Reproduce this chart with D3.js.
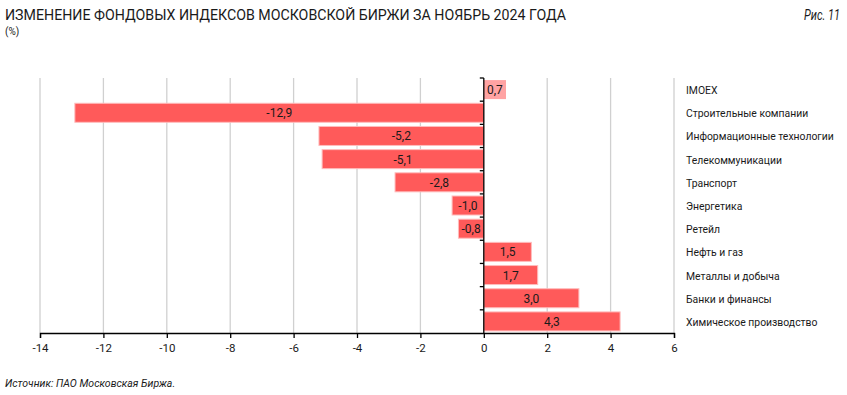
<!DOCTYPE html>
<html>
<head>
<meta charset="utf-8">
<script src="https://cdn.jsdelivr.net/npm/d3@7"></script>
<style>
    body { margin: 0; background: #fff; }
    svg { display: block; }
</style>
</head>
<body>
<div id="chart"></div>
<script>
// Index changes, Moscow Exchange, November 2024 (%)
const categories = [
    'IMOEX',
    'Строительные компании',
    'Информационные технологии',
    'Телекоммуникации',
    'Транспорт',
    'Энергетика',
    'Ретейл',
    'Нефть и газ',
    'Металлы и добыча',
    'Банки и финансы',
    'Химическое производство'
];
const values = [0.7, -12.9, -5.2, -5.1, -2.8, -1.0, -0.8, 1.5, 1.7, 3.0, 4.3];
const xTicks = [-14, -12, -10, -8, -6, -4, -2, 0, 2, 4, 6];

const width = 847, height = 395;
const margin = { top: 78, right: 173, bottom: 62, left: 40 };
const innerWidth = width - margin.left - margin.right;
const innerHeight = height - margin.top - margin.bottom;

const colors = {
    bar: '#ff5a5a',
    barStroke: '#ffbcbc',
    index: '#ffa3a3',
    grid: '#d0d0d0',
    text: '#1a1a1a'
};

const font = "Roboto, 'Open Sans', sans-serif";

const svg = d3.select('#chart').append('svg')
    .attr('width', width)
    .attr('height', height)
    .style('font-family', font);

// Title - squeezed to match the condensed face of the original
svg.append('text')
    .attr('x', 5).attr('y', 20)
    .attr('font-size', 15.5)
    .attr('textLength', 561)
    .attr('lengthAdjust', 'spacingAndGlyphs')
    .attr('fill', colors.text)
    .text('ИЗМЕНЕНИЕ ФОНДОВЫХ ИНДЕКСОВ МОСКОВСКОЙ БИРЖИ ЗА НОЯБРЬ 2024 ГОДА');

svg.append('text')
    .attr('x', 5).attr('y', 35)
    .attr('font-size', 10)
    .attr('fill', colors.text)
    .text('(%)');

svg.append('text')
    .attr('x', 804).attr('y', 20)
    .attr('font-size', 14)
    .attr('font-style', 'italic')
    .attr('textLength', 36)
    .attr('lengthAdjust', 'spacingAndGlyphs')
    .attr('fill', colors.text)
    .text('Рис. 11');

const g = svg.append('g')
    .attr('transform', `translate(${margin.left}, ${margin.top})`);

const x = d3.scaleLinear()
    .domain([-14, 6])
    .range([0, innerWidth]);

const y = d3.scaleBand()
    .domain(categories)
    .range([0, innerHeight])
    .paddingInner(0.18)
    .paddingOuter(0.09);

// Vertical gridlines
g.selectAll('.grid')
    .data(xTicks.filter(d => d !== 0))
    .join('line')
    .attr('class', 'grid')
    .attr('x1', d => x(d)).attr('x2', d => x(d))
    .attr('y1', 0).attr('y2', innerHeight)
    .attr('stroke', colors.grid)
    .attr('stroke-width', 1.3);

// Bars
const data = categories.map((c, i) => ({ name: c, value: values[i] }));

g.selectAll('.bar')
    .data(data)
    .join('rect')
    .attr('class', 'bar')
    .attr('x', d => x(Math.min(0, d.value)))
    .attr('y', d => y(d.name))
    .attr('width', d => Math.abs(x(d.value) - x(0)))
    .attr('height', y.bandwidth())
    .attr('fill', d => d.name === 'IMOEX' ? colors.index : colors.bar)
    .attr('stroke', d => d.name === 'IMOEX' ? 'none' : colors.barStroke)
    .attr('stroke-width', 1);

// Value labels
g.selectAll('.val')
    .data(data)
    .join('text')
    .attr('class', 'val')
    .attr('x', d => (x(d.value) + x(0)) / 2)
    .attr('y', d => y(d.name) + y.bandwidth() / 2 + 4.5)
    .attr('text-anchor', 'middle')
    .attr('font-size', 12)
    .attr('fill', colors.text)
    .text(d => d3.format('.1f')(d.value).replace('.', ',').replace('−', '-'));

// Category labels on the right
g.selectAll('.cat')
    .data(categories)
    .join('text')
    .attr('class', 'cat')
    .attr('x', innerWidth + 12)
    .attr('y', d => y(d) + y.bandwidth() / 2 + 4.5)
    .attr('font-size', 10.4)
    .attr('fill', colors.text)
    .text(d => d);

// Zero axis with ticks at band boundaries
const zero = g.append('g').attr('transform', `translate(${x(0)}, 0)`);
zero.append('line')
    .attr('y1', 0).attr('y2', innerHeight)
    .attr('stroke', '#000').attr('stroke-width', 1.3);
zero.selectAll('.ztick')
    .data(categories.map(c => y(c) - y.step() * y.paddingInner() / 2))
    .join('line')
    .attr('class', 'ztick')
    .attr('x1', -4).attr('x2', 0)
    .attr('y1', d => d).attr('y2', d => d)
    .attr('stroke', '#000').attr('stroke-width', 1.3);

// Bottom axis
const xAxis = d3.axisBottom(x)
    .tickValues(xTicks)
    .tickSize(5)
    .tickPadding(6)
    .tickFormat(d => String(d));

const ax = g.append('g')
    .attr('transform', `translate(0, ${innerHeight})`)
    .call(xAxis);
ax.select('.domain').attr('stroke', '#000').attr('stroke-width', 1.3);
ax.selectAll('.tick line').attr('stroke', '#000').attr('stroke-width', 1.3);
ax.selectAll('.tick text')
    .attr('font-family', font)
    .attr('font-size', 11.5)
    .attr('fill', colors.text);

// Source
svg.append('text')
    .attr('x', 5).attr('y', 387)
    .attr('font-size', 10.5)
    .attr('font-style', 'italic')
    .attr('fill', colors.text)
    .text('Источник: ПАО Московская Биржа.');
</script>
</body>
</html>
